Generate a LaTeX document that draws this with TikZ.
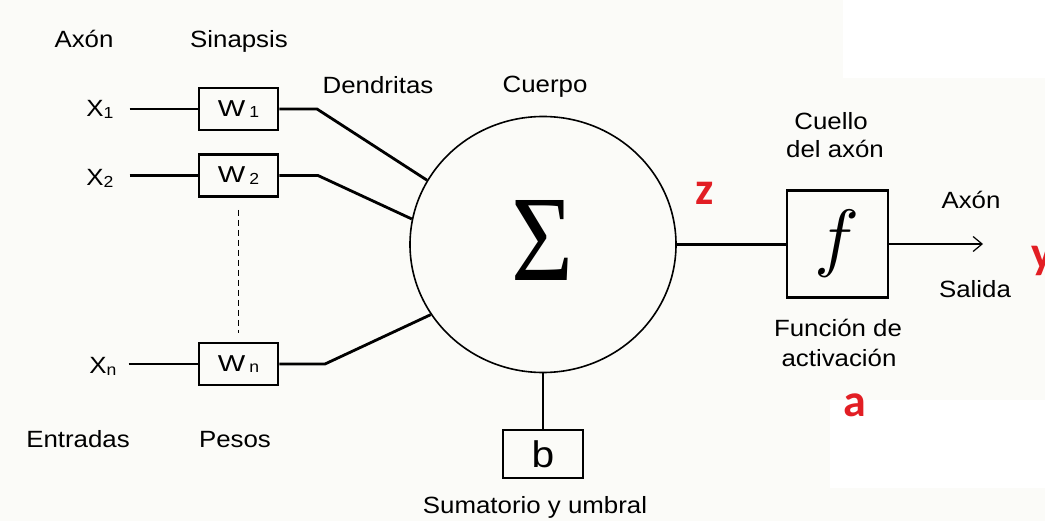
\documentclass[tikz,border=0pt]{standalone}
\usepackage{fontspec}
\setmainfont{Liberation Sans}[FakeStretch=1.1]
\newfontfamily\redfont{Carlito}
\newfontfamily\sigmafont{Liberation Serif}
\usepackage{graphicx}
\usepackage{tikz}
\usetikzlibrary{arrows.meta,positioning,shapes.geometric}

\definecolor{paper}{RGB}{251,251,248}
\definecolor{marker}{RGB}{226,30,36}

\newcommand\idx[1]{\raisebox{-1.5pt}{\fontsize{16}{16}\selectfont #1}}
\newcommand\wletter{\scalebox{1.15}[1]{W}}

\tikzset{
  lab/.style={font=\fontsize{23.5}{26}\selectfont, inner sep=0pt, anchor=base},
  wbox/.style={draw, line width=2.8pt, minimum width=79pt, minimum height=42pt, inner sep=0pt, font=\fontsize{23}{24}\selectfont},
  wire/.style={line width=2.8pt},
  redlab/.style={font=\redfont\bfseries\fontsize{46}{46}\selectfont, text=marker, inner sep=0pt, anchor=base},
}

\begin{document}
\begin{tikzpicture}[x=1pt,y=-1pt]
            % Draw the paper
            \fill[paper] (0,0) rectangle (1045,521);
            \fill[white] (843,0) rectangle (1045,78);
            \fill[white] (830,400) rectangle (1045,488);
            \useasboundingbox (0,0) rectangle (1045,521);

            % Draw the inputs and the weights
            \node[lab] (x1) at (100,117) {X\idx{1}};
            \node[lab] (x2) at (100,186) {X\idx{2}};
            \node[lab] (xn) at (103,374) {X\idx{n}};

            \node[wbox] (w1) at (238.5,109) {\wletter\,\idx{1}};
            \node[wbox] (w2) at (238.5,175.5) {\wletter\,\idx{2}};
            \node[wbox] (wn) at (238.5,364) {\wletter\,\idx{n}};

            \draw[wire, shorten <=16pt] (x1.east |- w1) -- (w1);
            \draw[wire, shorten <=16pt] (x2.east |- w2) -- (w2);
            \draw[wire, shorten <=12pt] (xn.east |- wn) -- (wn);
            \draw[line width=1.6pt, dash pattern=on 6pt off 4pt, shorten <=12pt, shorten >=9pt] (w2) -- (wn);

            % Draw the body
            \node[draw, ellipse, line width=1.6pt, minimum width=266pt, minimum height=256pt, inner sep=0pt] (cuerpo) at (543,244.5) {};
            \node (sigma) at (542.5,240) {\resizebox{62pt}{80pt}{\sigmafont Σ}};

            % Draw the dendrites
            \coordinate (d1) at (317,109);
            \coordinate (d2) at (318,175.5);
            \coordinate (dn) at (325,364);
            \draw[wire] (w1) -- (d1) -- (cuerpo.151);
            \draw[wire] (w2) -- (d2) -- (cuerpo.169);
            \draw[wire] (wn) -- (dn) -- (cuerpo.212);

            % Draw the bias
            \node[wbox, minimum width=80pt, minimum height=48pt, font=\fontsize{37}{40}\selectfont] (bias) at (543,454) {b};
            \draw[wire] (cuerpo.south) -- (bias);

            % Draw the activation
            \node[draw, line width=2.8pt, minimum width=101pt, minimum height=107pt, inner sep=0pt] (fbox) at (837.5,244) {\resizebox*{!}{67pt}{$f$}};
            \coordinate (out) at (983,244);
            \draw[wire] (cuerpo.east) -- (cuerpo.east -| fbox.west);
            \draw[wire, -{Straight Barb[length=9pt,width=15pt,line width=1.2pt]}] (fbox.east |- out) -- (out);

            % Labels
            \node[lab] (axonin) at (84,48) {Axón};
            \node[lab] (sinapsis) at (239,48) {Sinapsis};
            \node[lab] (dendritas) at (378,94) {Dendritas};
            \node[lab] (cuerpolab) at (545,93) {Cuerpo};
            \node[lab] (entradas) at (78,447) {Entradas};
            \node[lab] (pesos) at (235,447) {Pesos};
            \node[lab] (sumatorio) at (535,513) {Sumatorio y umbral};
            \node[lab] (cuello) at (831,130) {Cuello};
            \node[lab] (delaxon) at (835,158) {del axón};
            \node[lab] (axonout) at (971,209) {Axón};
            \node[lab] (salida) at (975,298) {Salida};
            \node[lab] (funcion) at (838,337) {Función de};
            \node[lab] (activacion) at (839,367) {activación};

            % Red marks
            \node[redlab] (z) at (705,205) {z};
            \node[redlab] (a) at (855,417) {a};
            \node[redlab, anchor=base west] (y) at (1031,269) {y};

        \end{tikzpicture}
\end{document}
